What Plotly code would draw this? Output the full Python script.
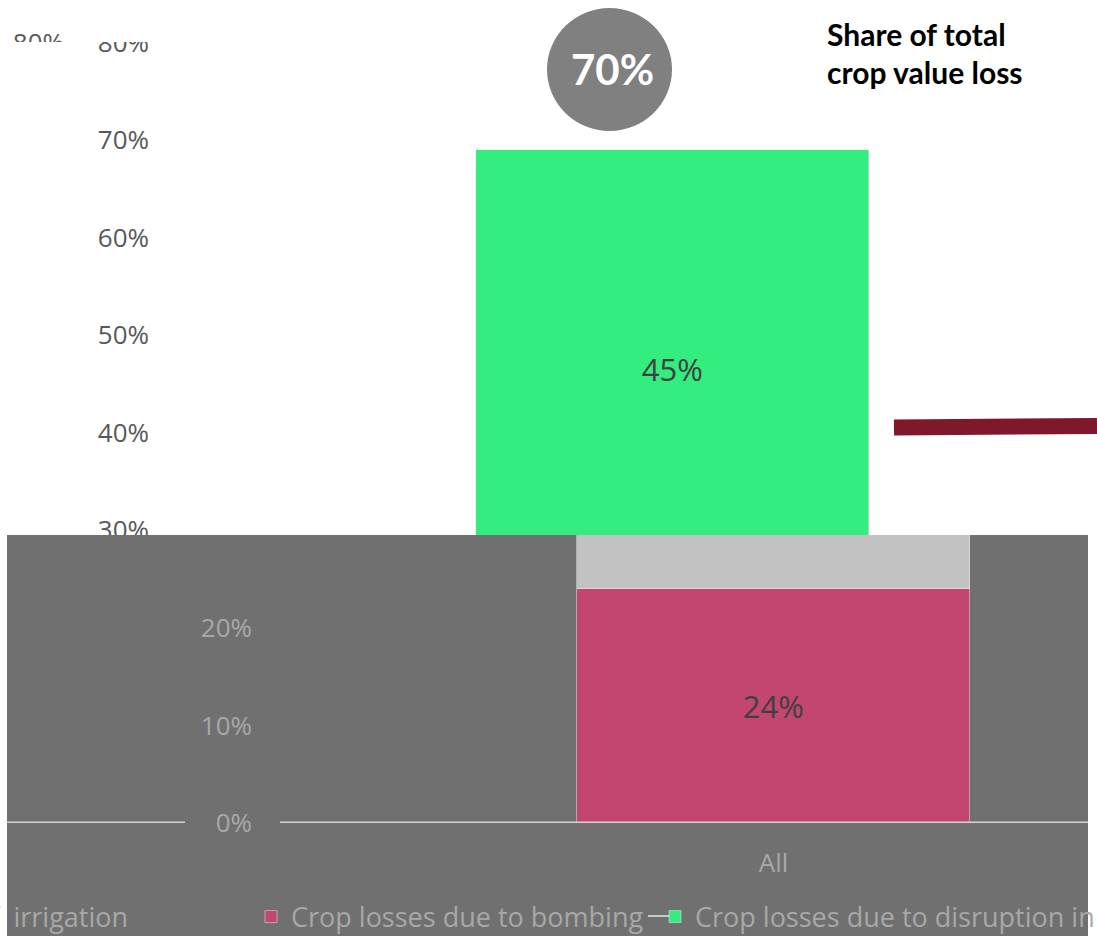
import plotly.graph_objects as go

W, H = 1097, 936

categories = ["All"]
bombing = [24]
disruption = [45]
irrigation = [6]
bombing_text = ["24%"]
disruption_text = ["45%"]
total_share = "70%"
top_ticks = [30, 40, 50, 60, 70, 80]
bottom_ticks = [0, 10, 20]

names = {
    "irrigation": "Loss of\u00a0\u00a0irrigation",
    "bombing": "Crop losses due to bombing",
    "disruption": "Crop losses due to disruption in irrigation and inputs",
}

PINK = "#c24670"
GREEN = "#33ed7f"
LGRAY = "#c2c2c2"
BG = "#707070"
LIGHT_TXT = "#a8a8a8"

def px(x):
    return x / W

def py(y):
    return 1 - y / H

fig = go.Figure()

# top chart (white panel)
fig.add_trace(go.Bar(x=categories, y=bombing, marker_color=PINK, width=0.8,
                     xaxis="x", yaxis="y", showlegend=False, hoverinfo="skip"))
fig.add_trace(go.Bar(x=categories, y=disruption, marker_color=GREEN, width=0.8,
                     text=disruption_text, textposition="inside", insidetextanchor="middle",
                     textfont=dict(color="#404040", size=31, family="Open Sans"),
                     name=names["disruption"], legend="legend3",
                     xaxis="x", yaxis="y"))
# helper so the ghost axis is drawn
fig.add_trace(go.Scatter(x=categories, y=[None], xaxis="x", yaxis="y3", showlegend=False,
                         hoverinfo="skip", mode="markers"))
# bottom chart (grey panel)
fig.add_trace(go.Bar(x=categories, y=bombing, marker_color=PINK, width=0.8,
                     text=bombing_text, textposition="inside", insidetextanchor="middle",
                     textfont=dict(color="#404040", size=31, family="Open Sans"),
                     name=names["bombing"], legend="legend2",
                     xaxis="x2", yaxis="y2"))
fig.add_trace(go.Bar(x=categories, y=irrigation, marker_color=LGRAY, width=0.8,
                     name=names["irrigation"], legend="legend", textposition="none",
                     xaxis="x2", yaxis="y2"))

scale = 683 / 70.0  # px per percent
ytop_lo = (823 - 535) / scale
ytop_hi = 823 / scale
unit = 393 / 0.8
a = -517.5 / unit

tickfont_top = dict(family="Open Sans", size=26, color="#595959")
tickfont_bot = dict(family="Open Sans", size=26, color=LIGHT_TXT)
legfont = dict(family="Open Sans", size=27, color=LIGHT_TXT)

fig.update_layout(
    width=W, height=H,
    margin=dict(l=0, r=0, t=0, b=0, autoexpand=False),
    paper_bgcolor="white", plot_bgcolor="rgba(0,0,0,0)",
    barmode="stack",
    bargap=0,
    xaxis=dict(domain=[px(155), 1], range=[a, a + (W - 155) / unit], showticklabels=False,
               showgrid=False, zeroline=False, showline=False, fixedrange=True),
    yaxis=dict(domain=[py(535), 1], range=[ytop_lo, ytop_hi], tickvals=top_ticks,
               ticktext=[f"{v}%" for v in top_ticks], tickfont=tickfont_top,
               showgrid=False, zeroline=False, showline=False, ticklabelstandoff=5),
    yaxis3=dict(overlaying="y", anchor="free", position=px(64), range=[ytop_lo, ytop_hi],
                tickvals=[80], ticktext=["80%"], tickfont=tickfont_top,
                showgrid=False, zeroline=False, showline=False),
    xaxis2=dict(domain=[px(256), px(1088)], range=[a, a + (1088 - 256) / unit],
                anchor="y2", tickfont=tickfont_bot, showgrid=False, zeroline=False,
                showline=False, ticklabelstandoff=22),
    yaxis2=dict(domain=[py(823), py(535)], range=[0, ytop_lo], anchor="x2",
                tickvals=bottom_ticks, ticktext=[f"{v}%" for v in bottom_ticks],
                tickfont=tickfont_bot, showgrid=False, zeroline=False, showline=False,
                ticklabelstandoff=3),
    legend=dict(x=px(134), xanchor="right", y=py(917), yanchor="middle",
                font=legfont, bgcolor="rgba(0,0,0,0)"),
    legend2=dict(x=px(251), xanchor="left", y=py(917), yanchor="middle",
                 font=legfont, bgcolor="rgba(0,0,0,0)"),
    legend3=dict(x=px(655), xanchor="left", y=py(917), yanchor="middle",
                 font=legfont, bgcolor="rgba(0,0,0,0)"),
    showlegend=True,
)

shapes = [
    # grey panel behind the lower chart
    dict(type="rect", xref="paper", yref="paper", x0=px(7), x1=px(1088), y0=0, y1=py(535),
         fillcolor=BG, line_width=0, layer="below"),
    # trims of the cut labels
    dict(type="rect", xref="paper", yref="paper", x0=px(7), x1=px(300), y0=py(546), y1=py(535),
         fillcolor=BG, line_width=0, layer="above"),
    dict(type="rect", xref="paper", yref="paper", x0=px(85), x1=px(170), y0=py(42), y1=1,
         fillcolor="white", line_width=0, layer="above"),
    dict(type="rect", xref="paper", yref="paper", x0=0, x1=px(75), y0=py(70), y1=py(42),
         fillcolor="white", line_width=0, layer="above"),
    # zero line of the lower chart
    dict(type="line", xref="paper", yref="y2", x0=px(7), x1=px(185), y0=0, y1=0,
         line=dict(color="#d4d4d4", width=3), layer="above"),
    dict(type="line", xref="paper", yref="y2", x0=px(280), x1=px(1088), y0=0, y1=0,
         line=dict(color="#d4d4d4", width=3), layer="above"),
    # small connector in the legend row
    dict(type="line", xref="paper", yref="paper", x0=px(648), x1=px(669), y0=py(916), y1=py(916),
         line=dict(color="#c8c8c8", width=2), layer="above"),
    # dark red marker line
    dict(type="line", xref="paper", yref="paper", x0=px(894), x1=1, y0=py(427.5), y1=py(426),
         line=dict(color="#80182b", width=16), layer="above"),
    # total circle
    dict(type="circle", xref="paper", yref="paper", x0=px(547), x1=px(672), y0=py(131), y1=py(8),
         fillcolor="#808080", line_width=0, layer="above"),
]
fig.update_layout(shapes=shapes)

fig.add_annotation(x=px(612), y=py(69), xref="paper", yref="paper", text=f"<b>{total_share}</b>",
                   showarrow=False, font=dict(family="Lato", size=42, color="white"),
                   xanchor="center", yanchor="middle")
fig.add_annotation(x=px(825), y=py(34), xref="paper", yref="paper", text="<b>Share of total</b>",
                   showarrow=False, font=dict(family="Lato", size=30, color="black"),
                   xanchor="left", yanchor="middle")
fig.add_annotation(x=px(825), y=py(72), xref="paper", yref="paper", text="<b>crop value loss</b>",
                   showarrow=False, font=dict(family="Lato", size=30, color="black"),
                   xanchor="left", yanchor="middle")

fig.write_html("out.html", config={"displayModeBar": False},
               post_script="document.body.style.margin='0';document.body.style.overflow='hidden';")
